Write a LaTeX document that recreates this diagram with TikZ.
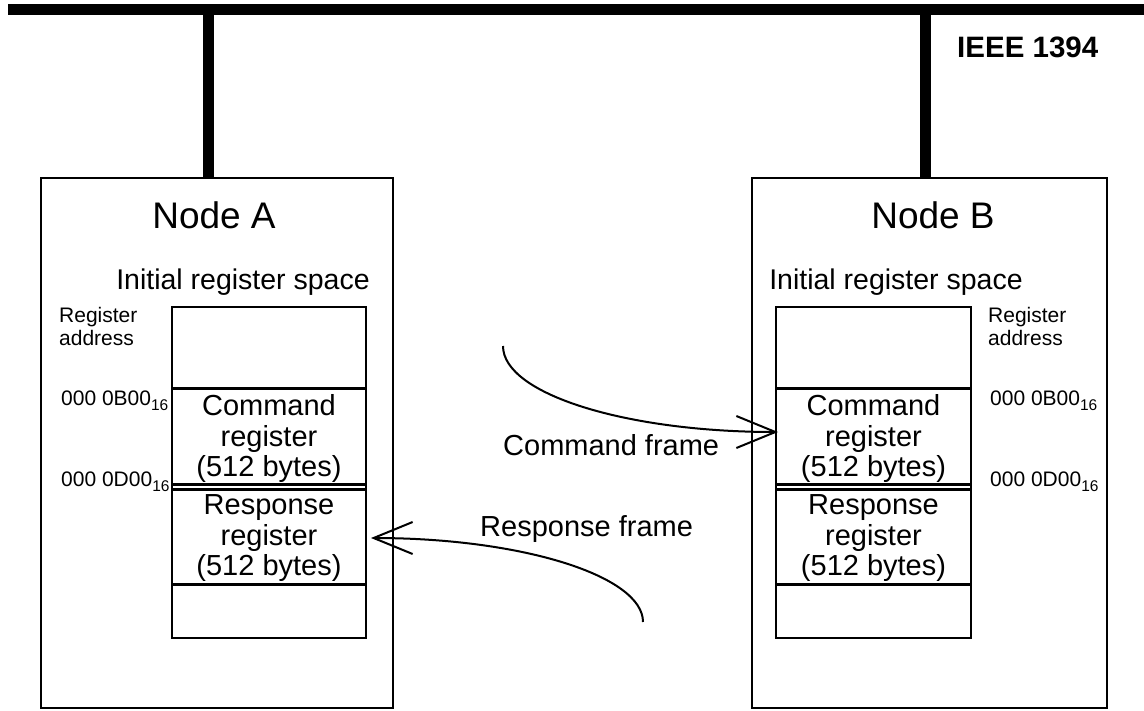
\documentclass[tikz,border=0pt]{standalone}
\usepackage{fontspec}
\setmainfont{Liberation Sans}
\usetikzlibrary{arrows.meta}

\tikzset{
  box/.style={draw, line width=2.7pt, inner sep=0pt, outer sep=0pt},
  bar/.style={fill, inner sep=0pt, outer sep=0pt},
  stem/.style={line width=11pt},
  frameline/.style={line width=2pt, -{Straight Barb[length=39pt,width=32pt,line width=2pt]}},
  titletext/.style={font=\fontsize{37}{40}\selectfont, anchor=base},
  spacetext/.style={font=\fontsize{28.5}{31}\selectfont, anchor=base},
  regtext/.style={font=\fontsize{29}{30.5}\selectfont, align=center, inner sep=0pt},
  addrtext/.style={font=\fontsize{21}{23}\selectfont, anchor=base west, inner sep=0pt, align=left},
  labeltext/.style={font=\fontsize{29}{31}\selectfont, anchor=base west, inner sep=0pt},
}
\newcommand{\hexsub}[1]{#1\raisebox{-5pt}{\fontsize{15.5}{15.5}\selectfont 16}}

\begin{document}
\begin{tikzpicture}[x=1pt, y=-1pt]
  \useasboundingbox (0,0) rectangle (1144,710);

  % IEEE 1394 bus
  \node[bar, minimum width=1136pt, minimum height=11pt] (bus) at (576,9.5) {};
  \node[font=\bfseries\fontsize{29.5}{32}\selectfont, anchor=base west, inner sep=0pt] (ieee) at (957,57) {IEEE 1394};

  % the two devices
  \node[box, minimum width=352pt, minimum height=530pt] (nodeA) at (217,443) {};
  \node[box, minimum width=355pt, minimum height=530pt] (nodeB) at (929.5,443) {};

  % taps onto the bus
  \coordinate (tapA) at (208.5,0);
  \coordinate (tapB) at (925,0);
  \draw[stem] (tapA |- bus.south) -- (tapA |- nodeA.north);
  \draw[stem] (tapB |- bus.south) -- (tapB |- nodeB.north);

  % titles
  \node[titletext] (titleA) at (214,228) {Node A};
  \node[titletext] (titleB) at (933,228) {Node B};
  \node[spacetext] (spaceA) at (243,289) {Initial register space};
  \node[spacetext] (spaceB) at (896,289) {Initial register space};

  % register columns, node A
  \node[box, minimum width=194pt, minimum height=331pt] (colA) at (269,472.5) {};
  \node[box, minimum width=194pt, minimum height=96pt] (cmdA) at (269,436.5) {};
  \node[box, minimum width=194pt, minimum height=95pt] (rspA) at (269,537) {};
  \node[regtext] (cmdAtext) at (269,438.5) {Command\\register\\(512 bytes)};
  \node[regtext] (rspAtext) at (269,538.5) {Response\\register\\(512 bytes)};

  % register columns, node B
  \node[box, minimum width=195pt, minimum height=331pt] (colB) at (873.5,472.5) {};
  \node[box, minimum width=195pt, minimum height=96pt] (cmdB) at (873.5,436.5) {};
  \node[box, minimum width=195pt, minimum height=95pt] (rspB) at (873.5,537) {};
  \node[regtext] (cmdBtext) at (873.5,438.5) {Command\\register\\(512 bytes)};
  \node[regtext] (rspBtext) at (873.5,538.5) {Response\\register\\(512 bytes)};

  % addresses
  \node[addrtext] (addrA) at (59,345) {Register\\address};
  \node[addrtext] (cmdaddrA) at (61,405) {\hexsub{000 0B00}};
  \node[addrtext] (rspaddrA) at (61,486) {\hexsub{000 0D00}};
  \node[addrtext] (addrB) at (988,345) {Register\\address};
  \node[addrtext] (cmdaddrB) at (990,405) {\hexsub{000 0B00}};
  \node[addrtext] (rspaddrB) at (990,486) {\hexsub{000 0D00}};

  % frames exchanged between the nodes
  \coordinate (cmdstart) at (503,346);
  \coordinate (rspstart) at (643,622);
  \draw[frameline] (cmdstart) .. controls (503,394) and (626,432) .. ([xshift=2pt,yshift=4.5pt]cmdB.west);
  \draw[frameline] (rspstart) .. controls (643,576) and (522,538) .. ([xshift=5pt,yshift=-1pt]rspA.east);
  \node[labeltext] (cmdlabel) at (503,455) {Command frame};
  \node[labeltext] (rsplabel) at (480,536) {Response frame};
\end{tikzpicture}
\end{document}
